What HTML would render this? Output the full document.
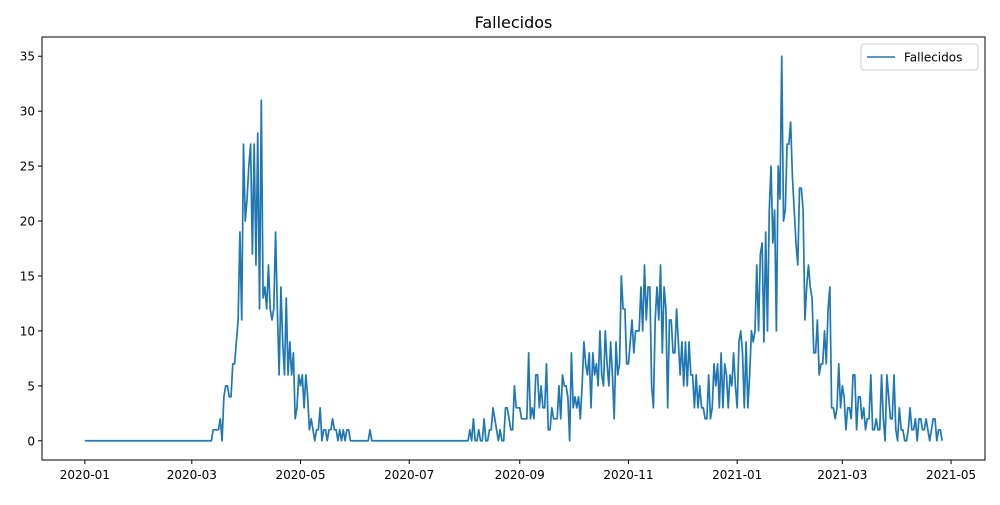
<!DOCTYPE html>
<html><head><meta charset="utf-8"><style>
body{margin:0;background:#fff;font-family:"Liberation Sans","DejaVu Sans",sans-serif}
svg text{font-family:"DejaVu Sans","Liberation Sans",sans-serif}
</style></head><body>
<svg id="chart" width="1000" height="500"></svg>
<script>
const startDate = "2020-01-01";
const fallecidos = [
0,0,0,0,0,0,0,0,0,0,0,0,0,0,0,0,0,0,0,0,0,0,0,0,0,0,0,0,0,0,0,0,0,0,0,0,0,0,0,0,0,0,0,0,0,0,0,0,0,0,0,0,0,0,0,0,0,0,0,0,0,0,0,0,0,0,0,0,0,0,0,0,
1,1,1,1,2,0,4,5,5,4,4,7,7,9,11,19,11,27,20,22,25,27,17,27,16,28,12,31,
13,14,12,16,12,11,12,19,12,6,14,9,6,13,6,9,6,8,2,3,6,5,6,3,6,4,1,2,1,0,1,1,3,0,1,1,0,1,1,2,1,1,0,1,0,1,0,1,1,0,
0,0,0,0,0,0,0,0,0,0,1,0,0,0,0,0,0,0,0,0,0,0,0,0,0,0,0,0,0,0,0,0,0,0,0,0,0,0,0,0,0,0,0,0,0,0,0,0,0,0,0,0,0,0,0,0,0,0,0,0,0,0,0,0,0,0,
1,0,2,0,0,1,0,0,2,0,0,1,1,3,
2,1,0,1,0,0,3,3,2,1,1,5,3,3,3,2,2,2,2,
8,2,3,2,6,6,3,5,3,3,7,1,1,3,2,2,2,5,2,6,5,5,4,
0,8,3,4,3,4,2,5,9,7,6,8,3,8,6,
7,5,10,6,5,10,7,5,9,6,2,9,6,7,15,12,12,7,7,9,11,8,10,10,10,14,10,16,11,14,14,5,3,11,14,11,16,8,14,12,3,11,11,8,8,12,9,6,9,5,9,5,9,6,6,3,6,3,5,3,3,2,2,6,2,3,7,5,7,3,8,3,7,6,3,6,5,8,5,3,9,10,
8,3,9,3,6,10,9,10,16,10,17,18,9,19,10,21,25,18,21,10,25,22,35,20,21,27,27,29,24,21,18,16,23,23,21,11,14,16,14,13,8,8,11,6,7,7,10,7,12,14,
3,3,2,3,7,3,5,4,1,3,3,2,6,6,1,4,4,2,3,1,2,2,6,1,1,2,1,1,6,2,0,6,4,2,2,6,1,0,3,1,1,0,0,1,3,1,1,2,0,2,2,1,1,2,1,0,1,2,2,0,1,1,0
];
const yTicks = [0,5,10,15,20,25,30,35];
const xTickLabels = ["2020-01","2020-03","2020-05","2020-07","2020-09","2020-11","2021-01","2021-03","2021-05"];

const NS="http://www.w3.org/2000/svg";
const svg=document.getElementById('chart');
function mk(t,a,p){const e=document.createElementNS(NS,t);for(const k in a)e.setAttribute(k,a[k]);(p||svg).appendChild(e);return e;}
const L=42,R=985,T=37,B=460;
const n=fallecidos.length;
const xmin=-0.05*(n-1), xmax=(n-1)*1.05;
const ymaxData=Math.max(...fallecidos);
const ymin=-0.05*ymaxData, ymax=ymaxData*1.05;
const xs=d=>L+(d-xmin)/(xmax-xmin)*(R-L);
const ys=v=>B-(v-ymin)/(ymax-ymin)*(B-T);
const t0=new Date(startDate+"T00:00:00Z");
function dayOf(lbl){const d=new Date(lbl+"-01T00:00:00Z");return (d-t0)/86400000;}

const title=mk('text',{x:(L+R)/2,y:28,'text-anchor':'middle','font-size':16,fill:'#000'});
title.textContent='Fallecidos';



yTicks.forEach(v=>{
  const y=ys(v);
  const tk=mk('line',{x1:L-4,x2:L,y1:y,y2:y,stroke:'#000','stroke-width':1});
  
  
  const t=mk('text',{x:L-7,y:y+4.5,'text-anchor':'end','font-size':12,fill:'#000'});
  t.textContent=v;
  
  
});
xTickLabels.forEach(l=>{
  const x=xs(dayOf(l));
  const tk=mk('line',{x1:x,x2:x,y1:B,y2:B+4,stroke:'#000','stroke-width':1});
  
  
  const t=mk('text',{x:x,y:B+19,'text-anchor':'middle','font-size':12,fill:'#000'});
  t.textContent=l;
  
  
});

let d='';
fallecidos.forEach((v,i)=>{d+=(i?'L':'M')+xs(i).toFixed(2)+','+ys(v).toFixed(2);});
const line=mk('path',{d:d,fill:'none',stroke:'#1f77b4','stroke-width':1.7,'stroke-linejoin':'round'});



const frame=mk('rect',{x:L,y:T,width:R-L,height:B-T,fill:'none',stroke:'#000','stroke-width':1});



const lg=mk('g',{});


mk('rect',{x:861,y:44,width:117,height:26,rx:3,fill:'#fff',stroke:'#ccc','stroke-width':1},lg);
mk('line',{x1:867,x2:895,y1:57,y2:57,stroke:'#1f77b4','stroke-width':1.5},lg);
const lt=mk('text',{x:904,y:61.5,'font-size':12,fill:'#000'},lg);
lt.textContent='Fallecidos';


</script>
</body></html>
